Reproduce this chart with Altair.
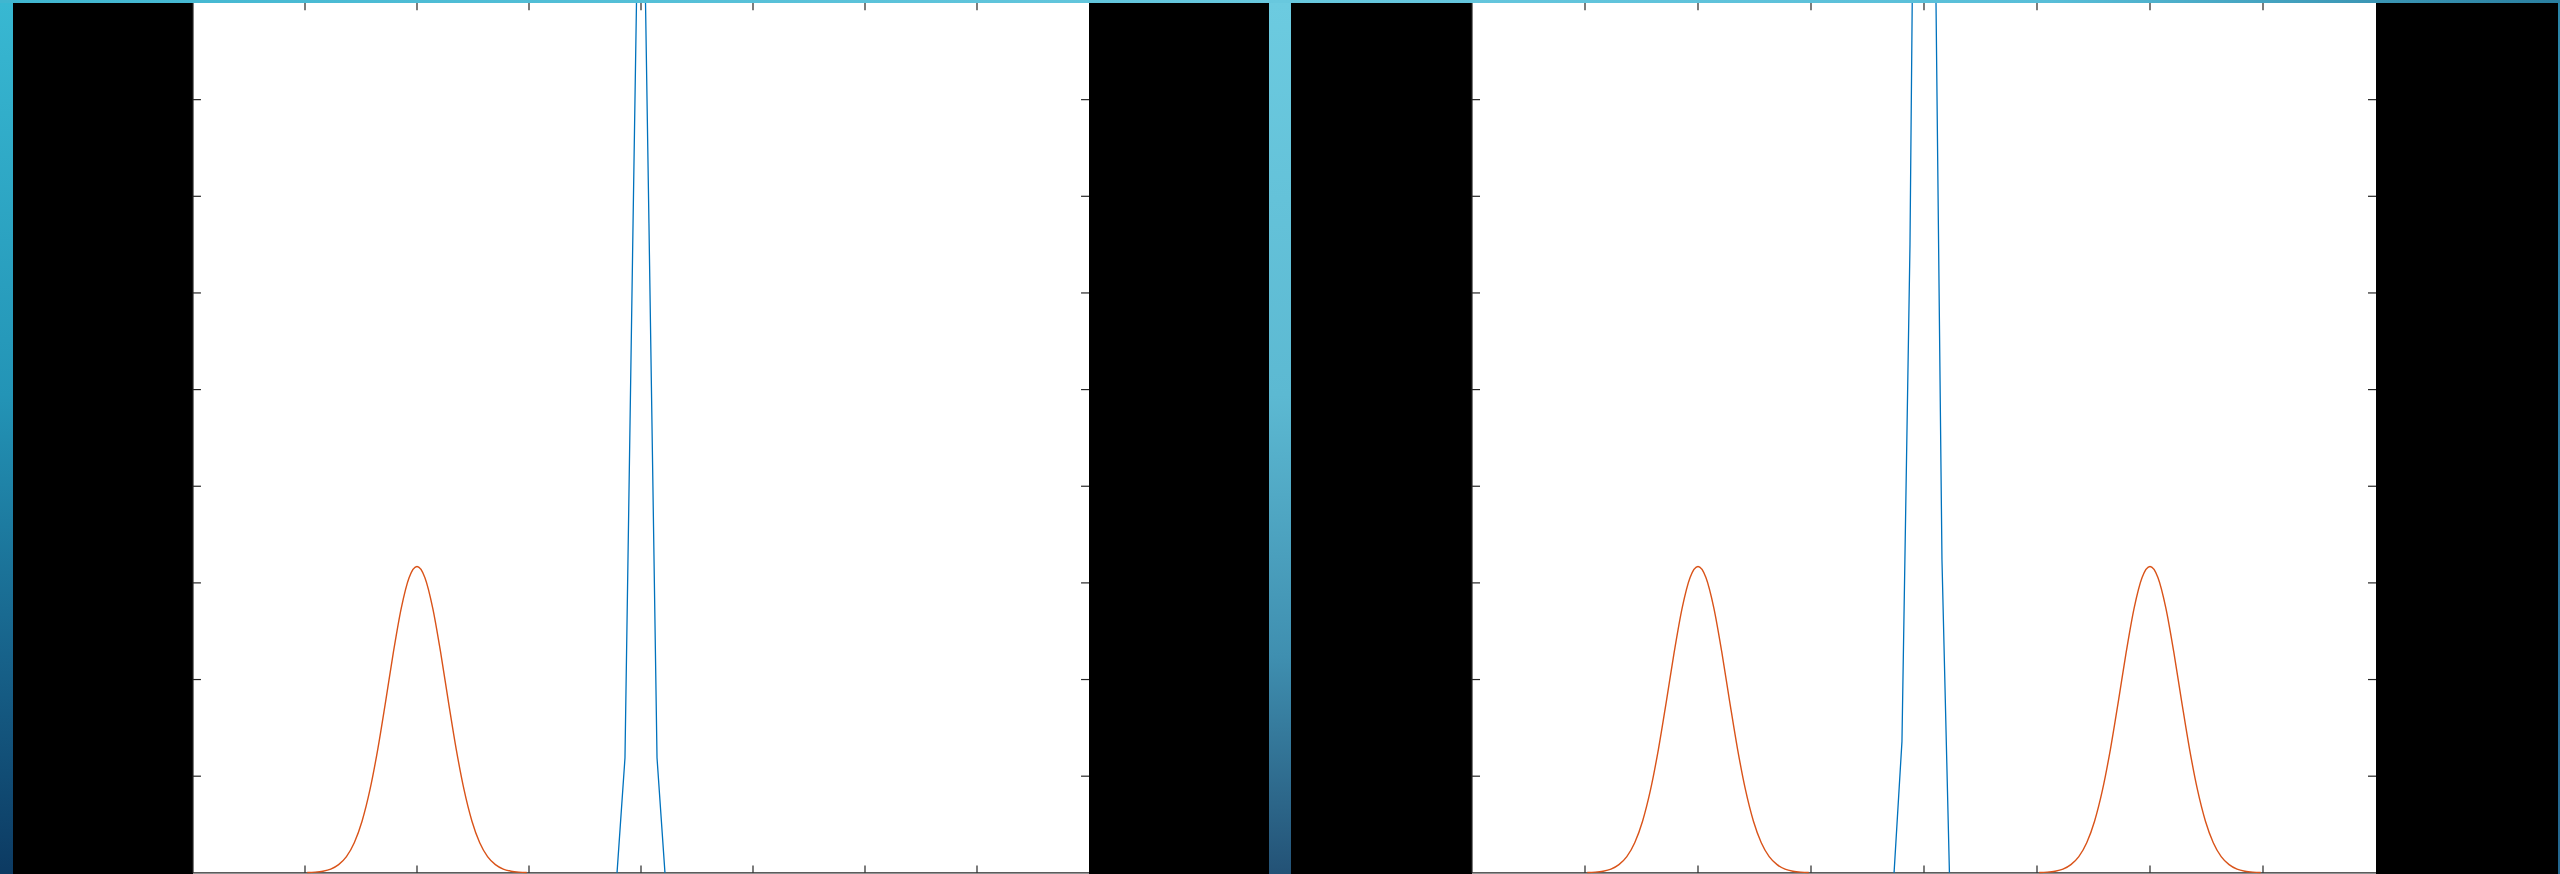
import altair as alt
import pandas as pd

# ---- axis layout (tick positions, data ranges) ----
X_RANGE = [0, 8]
Y_RANGE = [-0.012, 9]
X_TICKS = [1, 2, 3, 4, 5, 6, 7]
Y_TICKS = [1, 2, 3, 4, 5, 6, 7, 8]

# ---- wide (orange) bump: sample offsets from its centre and heights ----
ORANGE_OFFSETS = [-0.98, -0.91, -0.84, -0.77, -0.70, -0.63, -0.56, -0.49, -0.42,
                  -0.35, -0.28, -0.21, -0.14, -0.07, 0.0, 0.07, 0.14, 0.21, 0.28,
                  0.35, 0.42, 0.49, 0.56, 0.63, 0.70, 0.77, 0.84, 0.91, 0.98]
ORANGE_HEIGHTS = [0.003, 0.007, 0.017, 0.039, 0.085, 0.168, 0.312, 0.537, 0.860,
                  1.281, 1.775, 2.288, 2.742, 3.057, 3.170, 3.057, 2.742, 2.288,
                  1.775, 1.281, 0.860, 0.537, 0.312, 0.168, 0.085, 0.039, 0.017,
                  0.007, 0.003]
LEFT_ORANGE_CENTERS = [2.0]
RIGHT_ORANGE_CENTERS = [2.0, 6.0]

# ---- narrow (blue) spikes ----
LEFT_BLUE_X = [3.786, 3.857, 3.929, 4.0, 4.071, 4.143, 4.214]
LEFT_BLUE_Y = [0.0, 1.19, 6.72, 12.0, 6.72, 1.19, 0.0]
RIGHT_BLUE_X = [3.735, 3.805, 3.876, 3.947, 4.018, 4.088, 4.159, 4.225]
RIGHT_BLUE_Y = [0.0, 1.36, 6.5, 15.5, 18.5, 11.0, 3.24, 0.0]

ORANGE = "#D95319"
BLUE = "#0072BD"
AXIS = "#262626"

TOTAL_H = 874
TOP_H = 3
PANEL_H = TOTAL_H - TOP_H

xs = alt.Scale(domain=X_RANGE, nice=False, zero=False)
ys = alt.Scale(domain=Y_RANGE, nice=False, zero=False)


def curve_layer(frame, color, width, interp):
    return alt.Chart(frame).mark_line(
        color=color, strokeWidth=width, clip=True, interpolate=interp
    ).encode(
        x=alt.X("x:Q", scale=xs, axis=None),
        y=alt.Y("y:Q", scale=ys, axis=None),
        detail="curve:N",
        order="order:Q",
    )


def frame_layers():
    # box edges (bottom / left) and inward tick marks on all four sides
    lo_x, hi_x = X_RANGE
    top = 9
    edges = pd.DataFrame({"x": [lo_x, lo_x], "x2": [hi_x, lo_x], "y": [0, 0], "y2": [0, top]})
    edge = alt.Chart(edges).mark_rule(color=AXIS, strokeWidth=1.2).encode(
        x=alt.X("x:Q", scale=xs, axis=None), x2="x2:Q",
        y=alt.Y("y:Q", scale=ys, axis=None), y2="y2:Q",
    )
    tx = 0.071
    ty = 0.075
    rows = []
    for t in X_TICKS:
        rows.append({"x": t, "x2": t, "y": 0, "y2": ty})
        rows.append({"x": t, "x2": t, "y": top, "y2": top - ty})
    for t in Y_TICKS:
        rows.append({"x": lo_x, "x2": lo_x + tx, "y": t, "y2": t})
        rows.append({"x": hi_x, "x2": hi_x - tx, "y": t, "y2": t})
    ticks = alt.Chart(pd.DataFrame(rows)).mark_rule(color=AXIS, strokeWidth=1.2).encode(
        x=alt.X("x:Q", scale=xs, axis=None), x2="x2:Q",
        y=alt.Y("y:Q", scale=ys, axis=None), y2="y2:Q",
    )
    return [edge, ticks]


def panel(orange_centers, blue_x, blue_y, width):
    rows = []
    for i, c in enumerate(orange_centers):
        for j, (o, h) in enumerate(zip(ORANGE_OFFSETS, ORANGE_HEIGHTS)):
            rows.append({"x": c + o, "y": h, "curve": f"bump{i}", "order": j})
    orange = curve_layer(pd.DataFrame(rows), ORANGE, 1.4, "monotone")
    blue_df = pd.DataFrame({"x": blue_x, "y": blue_y, "curve": "spike",
                            "order": list(range(len(blue_x)))})
    blue = curve_layer(blue_df, BLUE, 1.3, "linear")
    return alt.layer(*frame_layers(), orange, blue).properties(
        width=width, height=PANEL_H,
        view=alt.ViewBackground(fill="white", stroke=None),
    )


def fill_block(width, height, paint):
    return alt.Chart(pd.DataFrame({"k": [0]})).mark_rect(fill=paint, strokeWidth=0).encode(
        x=alt.value(0), x2=alt.value("width"), y=alt.value(0), y2=alt.value("height")
    ).properties(width=width, height=height)


def vgrad(stops):
    return alt.LinearGradient(
        gradient="linear", x1=0, x2=0, y1=0, y2=1,
        stops=[alt.GradientStop(offset=o, color=c) for o, c in stops],
    )


left_edge = vgrad([(0, "#38b8d2"), (0.45, "#2394b6"), (0.75, "#17628a"), (1, "#0c3a62")])
mid_edge = vgrad([(0, "#6ccbe0"), (0.45, "#5cb9d2"), (0.75, "#3f8fb0"), (1, "#235276")])
right_edge = vgrad([(0, "#2c86a8"), (1, "#24668e")])
top_band = alt.LinearGradient(
    gradient="linear", x1=0, x2=1, y1=0, y2=0,
    stops=[alt.GradientStop(offset=0, color="#40b6d0"),
           alt.GradientStop(offset=0.5, color="#68c8de"),
           alt.GradientStop(offset=0.8, color="#58bed8"),
           alt.GradientStop(offset=1, color="#2a7fa0")],
)

row = alt.hconcat(
    fill_block(13, PANEL_H, left_edge),
    fill_block(180, PANEL_H, "#000000"),
    panel(LEFT_ORANGE_CENTERS, LEFT_BLUE_X, LEFT_BLUE_Y, 896),
    fill_block(180, PANEL_H, "#000000"),
    fill_block(22, PANEL_H, mid_edge),
    fill_block(181, PANEL_H, "#000000"),
    panel(RIGHT_ORANGE_CENTERS, RIGHT_BLUE_X, RIGHT_BLUE_Y, 904),
    fill_block(182, PANEL_H, "#000000"),
    fill_block(2, PANEL_H, right_edge),
    spacing=0,
    bounds="flush",
)

chart = alt.vconcat(
    fill_block(2560, TOP_H, top_band),
    row,
    spacing=0,
    bounds="flush",
).properties(
    padding=0,
    background="#000000",
).configure_view(stroke=None)

chart.save("out.html", embed_options={"renderer": "svg", "actions": False})
